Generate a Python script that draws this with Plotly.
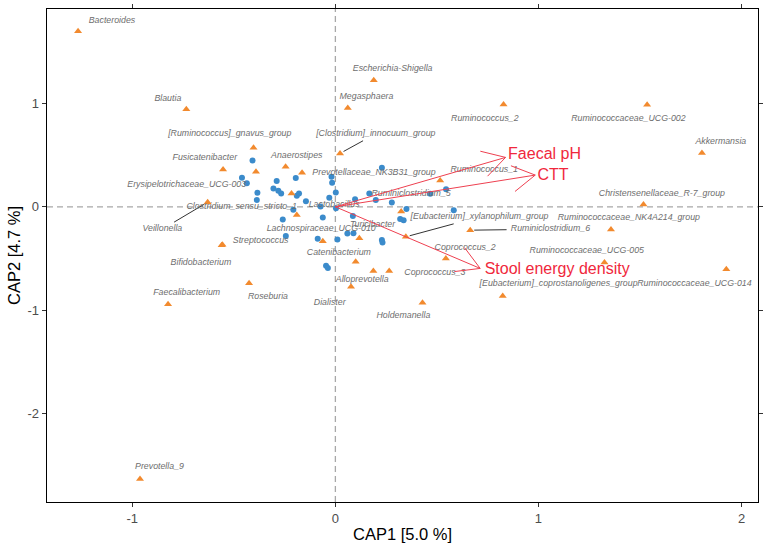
import math
import plotly.graph_objects as go

# ---------------- data ----------------
# sample (site) scores - blue dots
sample_x = [-0.408, -0.460, -0.436, -0.384, -0.387, -0.289, -0.305, -0.281, -0.267, -0.195,
            -0.190, -0.179, -0.019, -0.016, 0.002, -0.145, -0.073, 0.003, -0.207, -0.259,
            -0.244, -0.087, 0.010, -0.062, -0.030, 0.229, 0.167, 0.199, 0.097, 0.278,
            0.350, 0.467, 0.545, 0.583, 0.086, 0.319, 0.336, 0.059, 0.089, 0.229,
            0.232, -0.046, -0.037]
sample_y = [0.447, 0.281, 0.229, 0.137, 0.067, 0.249, 0.178, 0.155, 0.130, 0.278,
            0.108, 0.130, 0.290, 0.232, 0.139, 0.055, 0.004, -0.015, -0.029, -0.122,
            -0.282, -0.308, -0.316, -0.103, 0.087, 0.379, 0.130, 0.065, 0.073, 0.041,
            -0.020, 0.126, 0.171, -0.032, -0.088, -0.119, -0.129, -0.259, -0.255, -0.322,
            -0.345, -0.571, -0.591]

# genus scores - orange triangles
genus_names = [
    "Bacteroides", "Blautia", "[Ruminococcus]_gnavus_group", "Fusicatenibacter",
    "Erysipelotrichaceae_UCG-003", "Anaerostipes", "Prevotellaceae_NK3B31_group",
    "Clostridium_sensu_stricto_1", "Lachnospiraceae_UCG-010", "[Clostridium]_innocuum_group",
    "Megasphaera", "Escherichia-Shigella", "Ruminococcus_2", "Ruminococcaceae_UCG-002",
    "Akkermansia", "Veillonella", "Bifidobacterium", "Streptococcus", "Roseburia",
    "Faecalibacterium", "Prevotella_9", "Catenibacterium", "Turicibacter",
    "Ruminiclostridium_5", "[Eubacterium]_xylanophilum_group", "Alloprevotella",
    "Lactobacillus", "Coprococcus_3", "Dialister", "Holdemanella", "Coprococcus_2",
    "Ruminococcus_1", "Ruminiclostridium_6", "[Eubacterium]_coprostanoligenes_group",
    "Christensenellaceae_R-7_group", "Ruminococcaceae_NK4A214_group",
    "Ruminococcaceae_UCG-005", "Ruminococcaceae_UCG-014",
]
genus_x = [-1.267, -0.734, -0.403, -0.553, -0.391, -0.245, -0.164, -0.216, -0.190, 0.023,
           0.061, 0.189, 0.828, 1.535, 1.805, -0.629, -0.560, -0.556, -0.425, -0.824,
           -0.962, -0.062, 0.118, 0.324, 0.347, 0.100, 0.187, 0.265, 0.077, 0.429,
           0.544, 0.516, 0.664, 0.824, 1.517, 1.357, 1.325, 1.925]
genus_y = [1.698, 0.943, 0.571, 0.360, 0.339, 0.387, 0.329, 0.128, -0.080, 0.517,
           0.955, 1.224, 0.991, 0.987, 0.520, 0.045, -0.371, -0.366, -0.739, -0.942,
           -2.633, -0.332, -0.303, -0.046, -0.290, -0.532, -0.622, -0.622, -0.774, -0.929,
           -0.501, 0.254, -0.226, -0.862, 0.023, -0.219, -0.538, -0.603]
# repelled label positions (label centres, data units)
label_x = [-1.100, -0.825, -0.520, -0.643, -0.732, -0.190, 0.190, -0.461, -0.070, 0.199,
           0.153, 0.282, 0.736, 1.443, 1.898, -0.852, -0.662, -0.368, -0.332, -0.732,
           -0.866, 0.017, 0.183, 0.373, 0.710, 0.132, -0.006, 0.490, -0.028, 0.335,
           0.639, 0.733, 1.059, 1.099, 1.608, 1.445, 1.238, 1.768]
label_y = [1.795, 1.049, 0.711, 0.474, 0.210, 0.494, 0.329, -0.003, -0.216, 0.707,
           1.069, 1.333, 0.852, 0.852, 0.633, -0.216, -0.538, -0.329, -0.871, -0.829,
           -2.517, -0.445, -0.177, 0.123, -0.097, -0.710, 0.016, -0.639, -0.925, -1.058,
           -0.393, 0.362, -0.216, -0.748, 0.130, -0.106, -0.422, -0.742]
leader_genera = ["[Clostridium]_innocuum_group", "Veillonella",
                 "[Eubacterium]_xylanophilum_group", "Ruminiclostridium_6"]

# environmental vectors
env_names = ["Faecal pH", "CTT", "Stool energy density"]
env_x = [0.838, 0.984, 0.713]
env_y = [0.478, 0.307, -0.596]
env_label_x = [1.030, 1.072, 1.092]
env_label_y = [0.500, 0.297, -0.613]

x_ticks = [-1, 0, 1, 2]
x_ticktext = ["-1", "0", "1", "2"]
y_ticks = [-2, -1, 0, 1]
y_ticktext = ["-2", "-1", "0", "1"]
x_title = "CAP1 [5.0 %]"
y_title = "CAP2 [4.7 %]"

# ---------------- layout geometry ----------------
FIG_W, FIG_H = 767, 549
ML, MR, MT, MB = 47, 9, 9, 47
x_range = [-1.42, 2.081]
y_range = [-2.856, 1.914]
sx = (FIG_W - ML - MR) / (x_range[1] - x_range[0])
sy = (FIG_H - MT - MB) / (y_range[1] - y_range[0])

BLUE = "#3B8BCB"
ORANGE = "#F28A2E"
RED_TXT = "#F0283C"
RED_LINE = "#EE4050"
LABEL_GREY = "#6E6E6E"
FONT = "Liberation Sans, Arial, sans-serif"

fig = go.Figure()

# samples
fig.add_trace(go.Scatter(x=sample_x, y=sample_y, mode="markers",
                         marker=dict(color=BLUE, size=6, line=dict(width=0)),
                         hoverinfo="skip"))

# genera
fig.add_trace(go.Scatter(x=genus_x, y=genus_y, mode="markers",
                         marker=dict(color=ORANGE, size=7, symbol="triangle-up",
                                     line=dict(width=0)),
                         hoverinfo="skip"))

# leader segments (from point towards label box)
seg_x, seg_y = [], []
for name in leader_genera:
    i = genus_names.index(name)
    px, py = genus_x[i] * sx, genus_y[i] * sy
    cx, cy = label_x[i] * sx, label_y[i] * sy
    dx, dy = cx - px, cy - py
    hw = len(name) * 4.3 / 2 + 3
    hh = 7.0
    ts = []
    if dx != 0:
        ts.append(min((cx - hw - px) / dx, (cx + hw - px) / dx))
    if dy != 0:
        ts.append(min((cy - hh - py) / dy, (cy + hh - py) / dy))
    t_end = max(ts)
    norm = math.hypot(dx, dy)
    t_start = 4.0 / norm
    if t_end > t_start:
        seg_x += [(px + t_start * dx) / sx, (px + t_end * dx) / sx, None]
        seg_y += [(py + t_start * dy) / sy, (py + t_end * dy) / sy, None]
fig.add_trace(go.Scatter(x=seg_x, y=seg_y, mode="lines",
                         line=dict(color="#333333", width=1), hoverinfo="skip"))

# genus labels
fig.add_trace(go.Scatter(x=label_x, y=label_y, mode="text", text=genus_names,
                         textposition="middle center",
                         textfont=dict(family=FONT, size=8.8, color=LABEL_GREY,
                                       style="italic"),
                         hoverinfo="skip"))

# arrows for environmental variables
ax_, ay_ = [], []
L = 26.0
ang = math.radians(30)
for tx, ty in zip(env_x, env_y):
    ax_ += [0, tx, None]
    ay_ += [0, ty, None]
    ux, uy = -tx * sx, -ty * sy
    n = math.hypot(ux, uy)
    ux, uy = ux / n, uy / n
    for a in (ang, -ang):
        rx = ux * math.cos(a) - uy * math.sin(a)
        ry = ux * math.sin(a) + uy * math.cos(a)
        ax_ += [tx, tx + L * rx / sx, None]
        ay_ += [ty, ty + L * ry / sy, None]
fig.add_trace(go.Scatter(x=ax_, y=ay_, mode="lines",
                         line=dict(color=RED_LINE, width=1), hoverinfo="skip"))

fig.add_trace(go.Scatter(x=env_label_x, y=env_label_y, mode="text", text=env_names,
                         textposition="middle center",
                         textfont=dict(family=FONT, size=16, color=RED_TXT),
                         hoverinfo="skip"))

# dashed zero lines
dash_line = dict(color="#A8A8A8", width=1.3, dash="6px,4px")
fig.add_shape(type="line", xref="x", yref="paper", x0=0, x1=0, y0=0, y1=1,
              line=dash_line, layer="below")
fig.add_shape(type="line", xref="paper", yref="y", x0=0, x1=1, y0=0, y1=0,
              line=dash_line, layer="below")

axis_common = dict(showgrid=False, zeroline=False, showline=True, linecolor="black",
                   linewidth=1.3, mirror="ticks", ticks="outside", ticklen=4,
                   tickwidth=1, tickcolor="#333333",
                   tickfont=dict(family=FONT, size=13, color="#4D4D4D"),
                   automargin=False)

fig.update_layout(
    width=FIG_W, height=FIG_H,
    margin=dict(l=ML, r=MR, t=MT, b=MB),
    plot_bgcolor="white", paper_bgcolor="white",
    showlegend=False,
    xaxis=dict(range=x_range, tickvals=x_ticks, ticktext=x_ticktext,
               title=dict(text=x_title, standoff=3,
                          font=dict(family=FONT, size=16.5, color="black")),
               **axis_common),
    yaxis=dict(range=y_range, tickvals=y_ticks, ticktext=y_ticktext,
               title=dict(text=y_title, standoff=2,
                          font=dict(family=FONT, size=16.5, color="black")),
               **axis_common),
)

fig.write_html("out.html",
               config={"displayModeBar": False, "staticPlot": True},
               post_script="document.body.style.margin='0';"
                           "document.body.style.overflow='hidden';")
